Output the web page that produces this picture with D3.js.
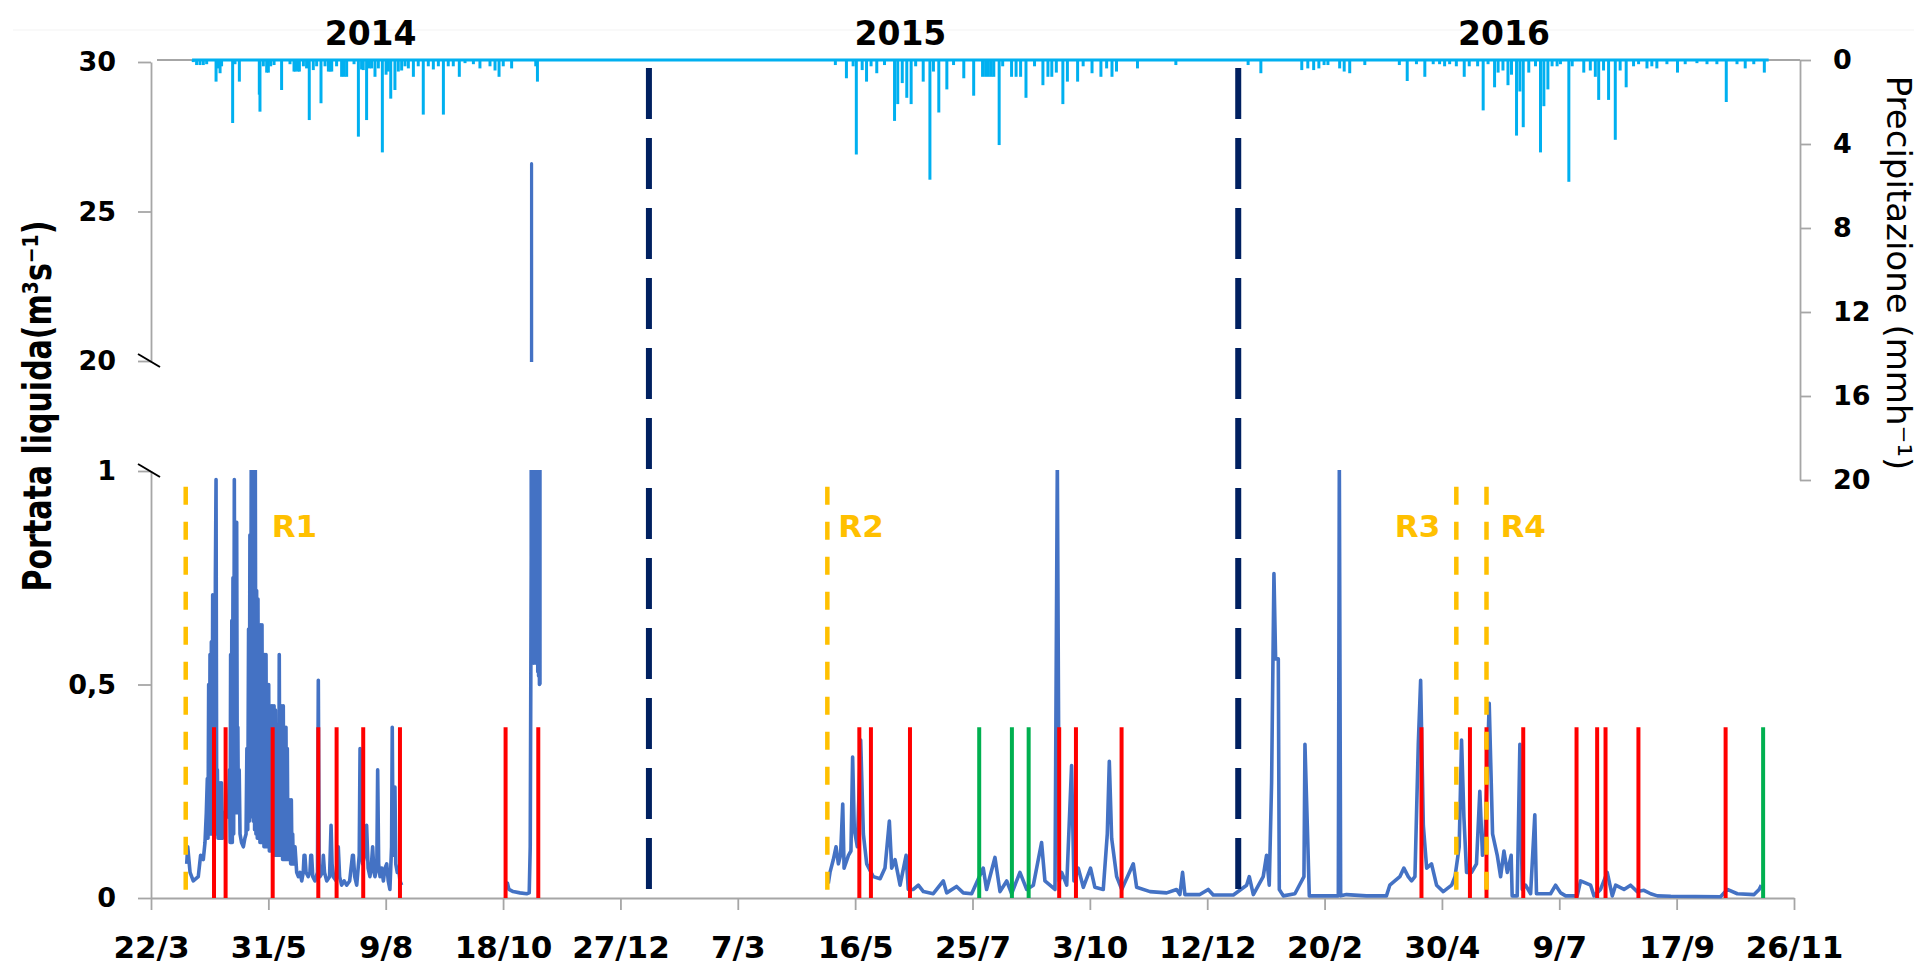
<!DOCTYPE html>
<html><head><meta charset="utf-8">
<script src="https://cdn.jsdelivr.net/npm/d3@7"></script>
<style>
html,body{margin:0;padding:0;background:#fff;}
svg{display:block;font-family:"DejaVu Sans",sans-serif;}
</style></head><body>
<svg id="chart" width="1924" height="965"></svg>
<script>
// ---------------- DATA ----------------
const START = "2014-03-22"; // day 0 of the record (first x tick)
const xTickDates = ["2014-03-22","2014-05-31","2014-08-09","2014-10-18","2014-12-27","2015-03-07","2015-05-16",
  "2015-07-25","2015-10-03","2015-12-12","2016-02-20","2016-04-30","2016-07-09","2016-09-17","2016-11-26"];
const yTopTicks = [20, 25, 30];
const yBotTicks = [0, 0.5, 1];
const precipTicks = [0, 4, 8, 12, 16, 20];
const yearLabels = ["2014", "2015", "2016"];
const yearLabelDates = ["2014-07-31", "2015-06-12", "2016-06-06"];
const refNames = ["R1", "R2", "R3", "R4"];
const refDates = ["2014-04-11 17", "2015-04-29 10", "2016-05-08 14", "2016-05-26 14"];
const redDates = ["2014-04-28 14","2014-05-05 12","2014-06-02 14","2014-06-29 19","2014-07-10 17","2014-07-26 14",
  "2014-08-17 12","2014-10-19 12","2014-11-08 00","2015-05-18 12","2015-05-25 10","2015-06-17 17","2015-09-14 17",
  "2015-09-24 17","2015-10-21 22","2016-04-17 19","2016-05-16 17","2016-05-26 14","2016-06-17 12","2016-07-19 07",
  "2016-07-31 14","2016-08-05 14","2016-08-25 05","2016-10-16 05"];
const greenDates = ["2015-07-29 00","2015-08-17 12","2015-08-27 12","2016-11-07 14"];
const yearBreakDates = ["2015-01-13 00", "2015-12-30 12"];
const eventHeight = 0.4;   // m3/s reached by red/green markers
const refHeight = 0.963;   // m3/s reached by R dashed markers

// discharge [days since START, m3/s]
const discharge2014a = [[21.3,0.08],[21.9,0.12],[23.3,0.06],[25.2,0.04],[28.2,0.05],[29.6,0.10],[31.2,0.09],[32.2,0.13],
 [33.0,0.20],[33.6,0.28],[34.0,0.14],[34.4,0.50],[34.8,0.15],[35.2,0.57],[35.6,0.15],[36.0,0.60],[36.4,0.15],[36.8,0.71],
 [37.2,0.15],[37.6,0.71],[38.0,0.15],[38.4,0.75],[38.8,0.98],[39.2,0.15],[39.6,0.30],[40.0,0.14],[40.4,0.27],[40.8,0.14],
 [41.2,0.27],[41.6,0.14],[42.0,0.27],[42.7,0.14],[43.4,0.20],[44.1,0.20],[45.0,0.19],[46.1,0.19],[46.8,0.30],[47.2,0.13],
 [47.5,0.57],[47.9,0.13],[48.2,0.65],[48.5,0.13],[48.9,0.75],[49.3,0.15],[49.7,0.98],[50.1,0.20],[50.5,0.88],[50.8,0.20],
 [51.1,0.88],[51.5,0.20],[51.8,0.40],[52.1,0.20],[52.6,0.30],[53.1,0.15],[54.0,0.13],[55.1,0.12],[56.0,0.14],
 [56.7,0.15],[57.2,0.35],[57.7,0.16],[58.2,0.63],[58.6,0.18],[59.0,0.85],[59.4,0.19],[59.8,1.05],[60.2,0.19],[60.6,1.05],
 [61.0,0.18],[61.4,1.05],[61.8,0.16],[62.2,1.05],[62.6,0.15],[63.0,0.72],[63.4,0.14],[63.8,0.70],[64.2,0.14],[64.6,0.64],
 [65.0,0.13],[65.4,0.64],[65.8,0.13],[66.2,0.64],[66.6,0.13],[67.0,0.57],[67.4,0.12],[67.8,0.57],[68.2,0.12],[68.6,0.57],
 [69.0,0.12],[69.4,0.50],[69.8,0.12],[70.2,0.50],[70.6,0.11],[71.0,0.45],[71.4,0.11],[71.8,0.45],[72.2,0.11],[72.6,0.45],
 [73.0,0.11],[73.4,0.45],[73.8,0.10],[74.2,0.44],[74.6,0.10],[75.0,0.40],[75.4,0.10],[75.8,0.40],[76.2,0.10],[76.5,0.57],
 [76.9,0.10],[77.3,0.45],[77.7,0.10],[78.1,0.45],[78.5,0.09],[78.9,0.45],[79.3,0.09],[79.7,0.40],[80.1,0.09],[80.5,0.40],
 [80.9,0.09],[81.3,0.35],[81.7,0.09],[82.1,0.23],[82.5,0.09],[82.9,0.23],[83.3,0.08],[83.7,0.23],[84.1,0.08],[84.5,0.15],
 [84.9,0.08],[85.9,0.12],[86.9,0.06],[87.9,0.05],[88.9,0.06],[89.9,0.04],[90.8,0.06],[91.3,0.10],[91.8,0.10],[92.5,0.06],
 [93.8,0.05],[94.8,0.06],[95.3,0.10],[95.8,0.10],[96.5,0.05],[97.8,0.04],[99.3,0.06],[99.8,0.51],[100.3,0.08],[100.8,0.05],
 [102.3,0.06],[102.8,0.10],[103.5,0.06],[104.8,0.04],[106.5,0.05],[107.4,0.17],[108.0,0.08],[108.7,0.05],[110.5,0.04],
 [111.2,0.12],[111.7,0.12],[112.5,0.05],[113.7,0.03],[115.2,0.04],[116.7,0.03],[118.5,0.04],[120.2,0.10],[120.7,0.10],
 [121.5,0.05],[122.7,0.03],[124.2,0.10],[124.7,0.35],[125.3,0.12],[126.2,0.08],[127.5,0.10],[128.6,0.17],[129.5,0.07],
 [130.6,0.05],[131.5,0.08],[132.2,0.12],[133.0,0.06],[133.6,0.05],[134.7,0.07],[135.2,0.30],[135.8,0.08],[136.6,0.05],
 [137.6,0.07],[138.6,0.04],[139.6,0.07],[140.6,0.08],[141.5,0.04],[142.5,0.02],[143.5,0.12],[143.9,0.40],[144.4,0.10],
 [145.0,0.10],[145.5,0.26],[146.0,0.08],[146.9,0.06],[147.7,0.07],[148.5,0.04],[149.5,0.03]];
const discharge2014b = [[212.1,0.03],[212.6,0.035],[213.5,0.02],[216,0.015],[220.1,0.012],[224.1,0.01],[225.6,0.012],
 [226.2,0.12],[226.8,0.8],[227.0,26.6],[227.2,0.6],[227.45,14],[227.7,0.58],[227.95,12],[228.2,0.55],[228.45,11],
 [228.7,0.56],[228.95,10],[229.2,0.6],[229.45,9],[229.7,0.55],[229.95,9],[230.2,0.55],[230.45,8],[230.7,0.53],[230.95,7],
 [231.2,0.52],[231.45,6],[231.7,0.5],[231.85,5],[232.0,0.5]];
const discharge2015_16 = [[404.0,0.034],[405.0,0.06],[407.0,0.09],[408.6,0.12],[410,0.08],[411.3,0.10],[412.6,0.22],
 [413.4,0.07],[416,0.10],[417.5,0.11],[418.5,0.33],[419.5,0.16],[421.3,0.12],[423.3,0.37],[424.9,0.15],[426.9,0.08],
 [430.8,0.05],[434.9,0.045],[437.8,0.07],[440.4,0.18],[441.8,0.07],[443.8,0.09],[446.8,0.03],[450.4,0.10],[451.7,0.02],
 [454.7,0.02],[457.7,0.03],[460.7,0.015],[466.6,0.01],[472.6,0.04],[474.6,0.012],[480.5,0.027],[484.5,0.012],[489.5,0.01],
 [496.4,0.07],[498.4,0.02],[503.4,0.095],[506.4,0.015],[510.4,0.04],[513.3,0.01],[518.3,0.06],[522.3,0.02],[526.3,0.03],
 [531.2,0.13],[533.2,0.04],[536.2,0.03],[539.2,0.02],[540.6,1.02],[541.8,0.04],[543.2,0.06],[546.2,0.03],[549.1,0.31],
 [550.5,0.04],[553.1,0.07],[556.1,0.025],[560.4,0.07],[563.0,0.025],[568.0,0.02],[570.4,0.15],[571.6,0.32],[573.0,0.14],
 [576.0,0.05],[579.0,0.02],[585.9,0.08],[587.9,0.025],[595.9,0.015],[605.8,0.012],[611.7,0.02],[613.7,0.008],[615.3,0.06],
 [616.7,0.008],[625.6,0.008],[630.6,0.02],[633.6,0.007],[645.6,0.007],[653.5,0.03],[655.1,0.05],[657.5,0.008],[663.4,0.05],
 [665.4,0.10],[667.0,0.03],[668.4,0.27],[669.8,0.76],[670.8,0.56],[672.4,0.56],[673.0,0.02],[675.4,0.005],[682.3,0.01],
 [687.7,0.05],[688.3,0.36],[689.7,0.17],[690.9,0.005],[697.3,0.005],[708.2,0.005],[708.8,1.02],[709.6,0.005],[713.1,0.008],
 [725.0,0.005],[736.9,0.005],[738.9,0.03],[741.9,0.04],[744.9,0.05],[747.3,0.07],[749.9,0.05],[751.9,0.04],[753.9,0.05],
 [755.9,0.36],[757.3,0.51],[758.9,0.17],[760.9,0.07],[763.8,0.08],[766.8,0.03],[770.8,0.015],[775.8,0.03],[777.8,0.05],
 [780.3,0.12],[781.7,0.37],[783.1,0.19],[784.7,0.06],[787.7,0.06],[790.6,0.08],[792.6,0.25],[794.2,0.10],[795.6,0.12],
 [798.2,0.456],[800.2,0.15],[803.0,0.10],[805.0,0.05],[807.0,0.11],[809.0,0.06],[811.3,0.10],[811.9,0.005],[814.9,0.005],
 [816.5,0.36],[817.9,0.02],[819.9,0.03],[822.9,0.01],[825.4,0.195],[826.4,0.01],[834.8,0.01],[837.8,0.03],[840.8,0.012],
 [843.8,0.005],[850.7,0.005],[852.7,0.04],[858.7,0.03],[860.7,0.005],[864.6,0.02],[868.6,0.06],[871.6,0.005],[873.6,0.03],
 [878.6,0.02],[882.5,0.03],[886.5,0.015],[890.5,0.018],[894.5,0.01],[898.5,0.005],[906.5,0.004],[936.2,0.003],[940.2,0.02],
 [946.2,0.01],[956.2,0.008],[959.2,0.02],[960.5,0.03]];

// precipitation [days since START, mm/h]
const precipitation = [[25.2,0.1],[27.2,0.24],[29.2,0.24],[31.2,0.24],[33.2,0.2],[38.8,1.03],[40.2,0.4],[41.2,0.63],
 [42.1,0.3],[48.7,3.0],[50.1,0.2],[52.7,1.03],[64.6,1.65],[65.0,2.46],[67.0,0.3],[69.0,0.6],[70.0,0.6],[71.4,0.3],[73.4,0.24],
 [77.9,1.43],[82.9,0.2],[85.3,0.55],[86.1,0.55],[86.9,0.5],[87.7,0.55],[88.5,0.55],[90.9,0.3],[92.8,0.4],[94.4,2.86],
 [96.8,0.48],[98.8,0.3],[101.4,2.06],[103.8,0.3],[105.8,0.55],[106.8,0.55],[107.8,0.55],[110.7,0.3],[113.7,0.8],[115.2,0.8],
 [116.7,0.8],[121.1,0.2],[123.7,3.65],[125.6,0.45],[126.6,0.48],[128.6,2.86],[130.2,0.4],[131.6,0.4],[133.6,0.8],[135.6,0.4],
 [138.0,4.4],[140.2,0.7],[141.6,0.55],[143.0,1.84],[145.5,1.43],[147.5,0.55],[149.5,0.5],[151.5,0.3],[153.5,0.4],[156.5,0.8],
 [159.4,0.3],[162.4,2.6],[165.4,0.3],[168.4,0.45],[171.4,0.3],[174.4,2.6],[177.3,0.3],[180.3,0.3],[183.9,0.8],[187.3,0.15],
 [192.3,0.2],[196.2,0.4],[202.2,0.3],[205.2,0.5],[207.6,0.8],[210.1,0.3],[215.1,0.4],[229.5,0.3],[230.5,1.03],
 [408.2,0.24],[414.8,0.87],[418.8,0.3],[420.7,4.5],[424.2,0.48],[426.8,1.03],[429.5,0.3],[432.9,0.63],[437.5,0.24],
 [443.5,2.9],[445.4,2.1],[448.1,1.1],[450.8,1.8],[453.4,2.1],[456.1,0.3],[460.6,1.03],[464.6,5.7],[466.7,0.55],[469.9,2.5],
 [474.7,1.4],[478.7,0.24],[484.8,0.87],[490.7,1.7],[496.0,0.8],[497.8,0.8],[499.5,0.8],[501.2,0.8],[502.7,0.8],[505.9,4.05],
 [508.0,0.3],[513.3,0.8],[516,0.8],[518.7,0.8],[521.9,1.8],[527,0.3],[532.0,1.2],[535,0.8],[537.3,0.8],[540,0.6],[543.9,2.1],
 [546.6,1.03],[552.7,1.03],[556,0.3],[561.3,0.63],[566.6,0.8],[570,0.4],[573.2,0.8],[575.9,0.55],[588.4,0.4],[611.3,0.24],
 [654.4,0.24],[662,0.63],[686.4,0.48],[690,0.4],[693.5,0.48],[696.6,0.4],[699.7,0.24],[702,0.24],[709,0.4],[711.7,0.55],
 [715,0.63],[724,0.24],[744.6,0.24],[749.3,1.0],[754.8,0.2],[759.8,0.8],[764.8,0.2],[768.6,0.2],[771.6,0.3],[774.6,0.2],
 [778.6,0.3],[783.3,0.8],[786.3,0.3],[791.3,0.3],[794.6,2.4],[797.5,0.2],[801.4,1.3],[803.5,0.6],[806.4,0.5],[809.4,1.2],
 [811.5,0.7],[814.5,3.6],[816.5,1.5],[818.5,3.2],[821.8,0.6],[825.8,0.3],[828.8,4.4],[830.8,2.2],[833.2,1.4],[835.7,0.3],
 [838.7,0.3],[840.7,0.2],[845.7,5.8],[847.7,0.3],[854.6,0.6],[858.5,0.5],[861.5,0.8],[863.5,1.9],[866.4,0.5],[869.4,1.9],
 [873.4,3.8],[876.3,0.5],[879.9,1.3],[884.3,0.3],[887.3,0.2],[892.3,0.4],[895.2,0.3],[898.2,0.4],[904.2,0.2],[910.5,0.6],
 [915.1,0.2],[922.1,0.15],[928.1,0.2],[934,0.2],[939.6,2.0],[946,0.2],[950.9,0.4],[956,0.2],[962.3,0.6]];
const precipRecord = [24.5, 964.9]; // days covered by the rain gauge series

// ---------------- CHART ----------------
const parseDate = s => s.length > 10 ? d3.utcParse("%Y-%m-%d %H")(s) : d3.utcParse("%Y-%m-%d")(s);
const t0 = parseDate(START);
const dayToDate = d => new Date(t0.getTime() + d * 864e5);

const svg = d3.select("#chart");
const AX = "#a6a6a6";

const x = d3.scaleUtc().domain([parseDate(xTickDates[0]), parseDate(xTickDates[xTickDates.length - 1])]).range([151, 1794]);
const yTop = d3.scaleLinear().domain([20, 30]).range([361, 62]);
const yBot = d3.scaleLinear().domain([0, 1]).range([898, 471]);
const yP = d3.scaleLinear().domain([0, 20]).range([60, 480]);

const defs = svg.append("defs");
defs.append("clipPath").attr("id", "clipBot").append("rect").attr("x", 0).attr("y", yBot(1) - 1).attr("width", 1924).attr("height", yBot(0) - yBot(1) + 20);
defs.append("clipPath").attr("id", "clipTop").append("rect").attr("x", 0).attr("y", yTop(30)).attr("width", 1924).attr("height", yTop(20) - yTop(30) + 1);

// faint outer frame of the original figure
svg.append("line").attr("x1", 13).attr("x2", 1914).attr("y1", 30).attr("y2", 30).attr("stroke", "#f3f3f3").attr("stroke-width", 1);

// precipitation zero line (secondary category axis)
svg.append("line").attr("x1", 157).attr("x2", 1800).attr("y1", yP(0)).attr("y2", yP(0)).attr("stroke", AX).attr("stroke-width", 1.8);

// precipitation
const PC = "#00B0F0";
svg.append("line").attr("x1", x(dayToDate(precipRecord[0]))).attr("x2", x(dayToDate(precipRecord[1])))
  .attr("y1", yP(0)).attr("y2", yP(0)).attr("stroke", PC).attr("stroke-width", 3);
svg.append("g").selectAll("line").data(precipitation).join("line")
  .attr("x1", d => x(dayToDate(d[0]))).attr("x2", d => x(dayToDate(d[0])))
  .attr("y1", yP(0)).attr("y2", d => yP(d[1]))
  .attr("stroke", PC).attr("stroke-width", 3);

function styleAxis(g, size) {
  g.select(".domain").attr("stroke", AX).attr("stroke-width", 1.8);
  g.selectAll(".tick line").attr("stroke", AX).attr("stroke-width", 1.8);
  g.selectAll(".tick text").attr("fill", "#000").attr("font-weight", "bold").attr("font-size", size)
    .attr("font-family", "DejaVu Sans");
}

// left axes (broken)
const fmtComma = v => String(v).replace(".", ",");
svg.append("g").attr("transform", "translate(151,0)")
  .call(d3.axisLeft(yTop).tickValues(yTopTicks).tickFormat(fmtComma).tickSizeInner(13).tickSizeOuter(0).tickPadding(22))
  .call(g => styleAxis(g, 27));
svg.append("g").attr("transform", "translate(151,0)")
  .call(d3.axisLeft(yBot).tickValues(yBotTicks).tickFormat(fmtComma).tickSizeInner(13).tickSizeOuter(0).tickPadding(22))
  .call(g => styleAxis(g, 27));

// right axis
svg.append("g").attr("transform", "translate(1800,0)")
  .call(d3.axisRight(yP).tickValues(precipTicks).tickSizeInner(11).tickSizeOuter(0).tickPadding(22))
  .call(g => styleAxis(g, 27));

// x axis
svg.append("g").attr("transform", `translate(0,${yBot(0)})`)
  .call(d3.axisBottom(x).tickValues(xTickDates.map(parseDate)).tickFormat(d3.utcFormat("%-d/%-m"))
    .tickSizeInner(12).tickSizeOuter(0).tickPadding(26))
  .call(g => styleAxis(g, 31));

// break marks on the left axis
[yTop(20), yBot(1)].forEach(yy => {
  svg.append("line").attr("x1", 138).attr("y1", yy - 7).attr("x2", 160).attr("y2", yy + 6)
    .attr("stroke", "#000").attr("stroke-width", 2);
});

// discharge
const QC = "#4472C4";
const lineBot = d3.line().x(d => x(dayToDate(d[0]))).y(d => yBot(d[1]));
const lineTop = d3.line().x(d => x(dayToDate(d[0]))).y(d => yTop(d[1]));
[discharge2014a, discharge2014b, discharge2015_16].forEach(s => {
  svg.append("path").attr("clip-path", "url(#clipBot)").attr("d", lineBot(s))
    .attr("fill", "none").attr("stroke", QC).attr("stroke-width", 3.6).attr("stroke-linejoin", "round");
  svg.append("path").attr("clip-path", "url(#clipTop)").attr("d", lineTop(s))
    .attr("fill", "none").attr("stroke", QC).attr("stroke-width", 3.2).attr("stroke-linejoin", "round");
});

// event markers
svg.append("g").selectAll("line").data(redDates).join("line")
  .attr("x1", d => x(parseDate(d))).attr("x2", d => x(parseDate(d)))
  .attr("y1", yBot(0)).attr("y2", yBot(eventHeight)).attr("stroke", "#FF0000").attr("stroke-width", 4);
svg.append("g").selectAll("line").data(greenDates).join("line")
  .attr("x1", d => x(parseDate(d))).attr("x2", d => x(parseDate(d)))
  .attr("y1", yBot(0)).attr("y2", yBot(eventHeight)).attr("stroke", "#00B050").attr("stroke-width", 4);

// R reference lines
const RC = "#FFC000";
svg.append("g").selectAll("line").data(refDates).join("line")
  .attr("x1", d => x(parseDate(d))).attr("x2", d => x(parseDate(d)))
  .attr("y1", yBot(refHeight)).attr("y2", yBot(0)).attr("stroke", RC).attr("stroke-width", 4.5)
  .attr("stroke-dasharray", "18,17");
const refLabelDx = [86, 11, -16, 14];
svg.append("g").selectAll("text").data(refNames).join("text")
  .attr("x", (d, i) => x(parseDate(refDates[i])) + refLabelDx[i])
  .attr("y", 537).attr("text-anchor", (d, i) => refLabelDx[i] < 0 ? "end" : "start")
  .attr("fill", RC).attr("font-weight", "bold").attr("font-size", 31).text(d => d);

// year separators
svg.append("g").selectAll("line").data(yearBreakDates).join("line")
  .attr("x1", d => x(parseDate(d))).attr("x2", d => x(parseDate(d)))
  .attr("y1", yTop(30) + 6).attr("y2", yBot(0) - 5).attr("stroke", "#002060").attr("stroke-width", 6)
  .attr("stroke-dasharray", "51,19");

// year labels
svg.append("g").selectAll("text").data(yearLabels).join("text")
  .attr("x", (d, i) => x(parseDate(yearLabelDates[i]))).attr("y", 45).attr("text-anchor", "middle")
  .attr("font-weight", "bold").attr("font-size", 33).attr("fill", "#000").text(d => d);

// axis titles
svg.append("text").attr("transform", "translate(51,406) scale(1.3,1) rotate(-90)")
  .attr("text-anchor", "middle").attr("font-weight", "bold").attr("font-size", 30).attr("fill", "#000")
  .text("Portata liquida(m³s⁻¹)");
svg.append("text").attr("transform", "translate(1887,273) rotate(90)")
  .attr("text-anchor", "middle").attr("font-size", 34).attr("fill", "#000")
  .text("Precipitazione (mmh⁻¹)");
</script>
</body></html>
